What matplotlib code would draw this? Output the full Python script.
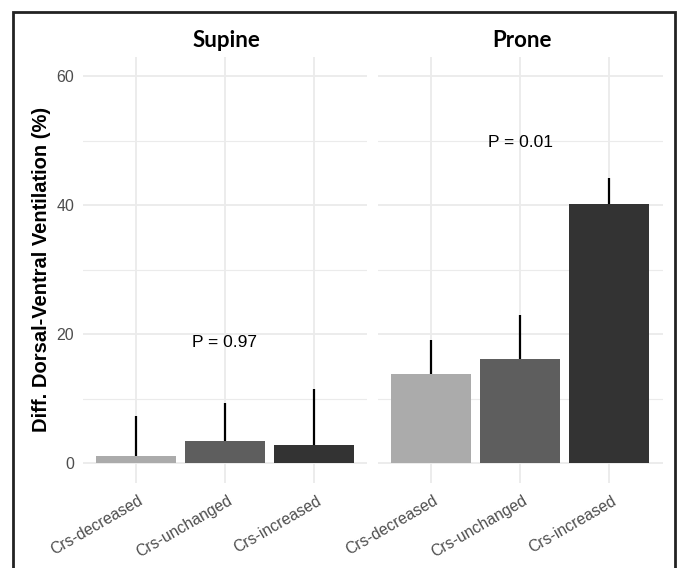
import matplotlib
matplotlib.use("Agg")
import matplotlib.pyplot as plt
import matplotlib.transforms as mtransforms
from matplotlib.lines import Line2D
import numpy as np

# ---- data ----
categories = ["Crs-decreased", "Crs-unchanged", "Crs-increased"]
panels = ["Supine", "Prone"]
supine_means = [1.2, 3.4, 2.8]
supine_sd = [6.2, 6.0, 8.8]
prone_means = [13.8, 16.1, 40.2]
prone_sd = [5.3, 6.9, 4.1]
p_labels = ["P = 0.97", "P = 0.01"]
p_label_y = [18.7, 49.7]
y_ticks = [0, 20, 40, 60]
bar_colors = ["#ABABAB", "#5E5E5E", "#333333"]

W, H = 679, 568
fig = plt.figure(figsize=(W / 100, H / 100), dpi=100)
fig.patch.set_facecolor("white")

def fx(px):
    return px / W

def fy(py):
    return 1 - py / H

top_px, bot_px = 56.9, 482.7
panel_x = [(82.6, 367.4), (377.6, 662.7)]
means_all = [supine_means, prone_means]
sd_all = [supine_sd, prone_sd]
grid_c = "#EBEBEB"
tick_c = "#4D4D4D"

axes = []
for i, (x0, x1) in enumerate(panel_x):
    ax = fig.add_axes([fx(x0), fy(bot_px), fx(x1) - fx(x0), fy(top_px) - fy(bot_px)])
    axes.append(ax)
    xs = np.arange(1, len(categories) + 1)
    ax.set_xlim(0.4, 3.6)
    ax.set_ylim(-3, 63)
    for s in ax.spines.values():
        s.set_visible(False)
    # grid
    for yv in y_ticks:
        ax.axhline(yv, color=grid_c, lw=1.3, zorder=0)
    for yv in [10, 30, 50]:
        ax.axhline(yv, color=grid_c, lw=0.8, zorder=0)
    for xv in xs:
        ax.axvline(xv, color=grid_c, lw=1.3, zorder=0)
    m = means_all[i]
    sd = sd_all[i]
    ax.bar(xs, m, width=0.9, color=bar_colors, zorder=2)
    ax.vlines(xs, m, np.array(m) + np.array(sd), color="black", lw=1.6, zorder=3)
    ax.text(2, p_label_y[i], p_labels[i], ha="center", va="center",
            fontsize=12.5, family="Liberation Sans", color="black", zorder=4)
    ax.set_xticks(xs)
    ax.set_xticklabels(categories, rotation=30, ha="right", va="top",
                       rotation_mode="anchor", fontsize=11.3,
                       family="Liberation Sans", color=tick_c)
    ax.tick_params(axis="x", length=0, pad=7.5)
    off = mtransforms.ScaledTranslation(2 / 100, 0, fig.dpi_scale_trans)
    for lab in ax.get_xticklabels():
        lab.set_transform(lab.get_transform() + off)
    ax.set_yticks(y_ticks)
    if i == 0:
        ax.set_yticklabels([str(v) for v in y_ticks], fontsize=11.5,
                           family="Liberation Sans", color=tick_c)
        ax.tick_params(axis="y", length=0, pad=6)
    else:
        ax.tick_params(axis="y", length=0, labelleft=False)
    ax.set_facecolor("white")

# facet titles
for i, (x0, x1) in enumerate(panel_x):
    fig.text(fx((x0 + x1) / 2 + 1.5), fy(46.7), panels[i], ha="center", va="baseline",
             fontsize=16, fontweight="bold", family="Lato", color="black")

# y label
fig.text(fx(41.7), fy(269.8), "Diff. Dorsal-Ventral Ventilation (%)", rotation=90,
         ha="center", va="center", fontsize=14.5, fontweight="bold",
         family="Liberation Sans", color="black")

# outer border (bottom cropped)
border = Line2D([fx(13.3), fx(13.3), fx(674.5), fx(674.5)],
                [fy(575), fy(11.5), fy(11.5), fy(575)],
                transform=fig.transFigure, color="#222222", lw=2.0,
                solid_joinstyle="miter", clip_on=False)
fig.add_artist(border)

fig.savefig("out.png", dpi=100, facecolor="white")
